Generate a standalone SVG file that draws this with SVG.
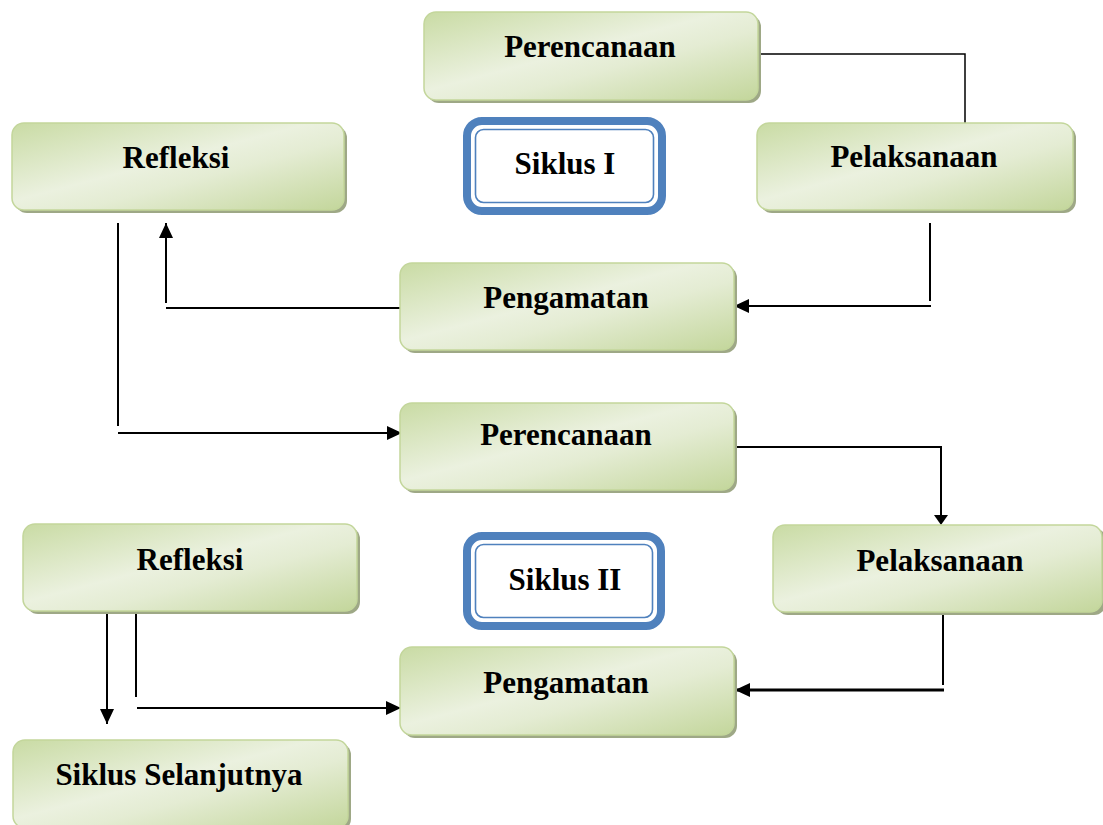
<svg xmlns="http://www.w3.org/2000/svg" width="1103" height="825" viewBox="0 0 1103 825">
<style>
.shadow{fill:#9ea886;}
.box{fill:url(#g);stroke:#c3d69b;stroke-width:1.5;}
.t{font-family:"Liberation Serif","Times New Roman",serif;font-weight:bold;font-size:31px;fill:#000;text-anchor:middle;}
.outer{fill:#fff;stroke:#4f81bd;stroke-width:8;}
.inner{fill:none;stroke:#4f81bd;stroke-width:1.6;}
.c{fill:none;stroke:#000;stroke-width:2;}
.c1{fill:none;stroke:#000;stroke-width:1.5;}
</style>
<defs>
<linearGradient id="g" x1="0" y1="0" x2="1" y2="1">
<stop offset="0" stop-color="#c9dba4"/>
<stop offset="0.45" stop-color="#ebf1df"/>
<stop offset="0.6" stop-color="#e4ecd3"/>
<stop offset="1" stop-color="#c3d69b"/>
</linearGradient>
<marker id="arr" markerUnits="userSpaceOnUse" markerWidth="15" markerHeight="14" refX="15" refY="7" orient="auto">
<path d="M0,0 L15,7 L0,14 z" fill="#000"/>
</marker>
</defs>
<rect width="1103" height="825" fill="#fff"/>

<g id="connectors">
<polyline class="c1" points="759,54 965,54 965,130"/>
<line class="c" x1="930" y1="223" x2="930" y2="301"/>
<line class="c" x1="931" y1="306" x2="734" y2="306" marker-end="url(#arr)"/>
<line class="c" x1="402" y1="308" x2="166" y2="308"/>
<line class="c" x1="166" y1="303" x2="166" y2="223" marker-end="url(#arr)"/>
<line class="c" x1="118" y1="223" x2="118" y2="426"/>
<line class="c" x1="118" y1="433" x2="402" y2="433" marker-end="url(#arr)"/>
<polyline class="c" points="735,447 941,447 941,518"/>
<path d="M934,515 L948,515 L941,525 z" fill="#000"/>
<line class="c" x1="943" y1="605" x2="943" y2="685"/>
<line class="c" x1="944" y1="690" x2="735" y2="690" marker-end="url(#arr)" style="stroke-width:3"/>
<line class="c" x1="107" y1="612" x2="107" y2="724" marker-end="url(#arr)"/>
<line class="c" x1="136" y1="612" x2="136" y2="697"/>
<line class="c" x1="137" y1="708" x2="401" y2="708" marker-end="url(#arr)"/>
</g>

<g id="perencanaan1">
<rect class="shadow" x="427" y="15" width="334" height="88" rx="12"/>
<rect class="box" x="424" y="12" width="334" height="88" rx="12"/>
<text class="t" x="590" y="57">Perencanaan</text>
</g>

<g id="refleksi1">
<rect class="shadow" x="15" y="126" width="332" height="87" rx="12"/>
<rect class="box" x="12" y="123" width="332" height="87" rx="12"/>
<text class="t" x="176" y="168">Refleksi</text>
</g>

<g id="siklus1">
<rect class="outer" x="467" y="121" width="195" height="90" rx="15"/>
<rect class="inner" x="475.5" y="129.5" width="178" height="73" rx="8"/>
<text class="t" x="565" y="174">Siklus I</text>
</g>

<g id="pelaksanaan1">
<rect class="shadow" x="760" y="126" width="316" height="87" rx="12"/>
<rect class="box" x="757" y="123" width="316" height="87" rx="12"/>
<text class="t" x="914" y="167">Pelaksanaan</text>
</g>

<g id="pengamatan1">
<rect class="shadow" x="403" y="266" width="334" height="87" rx="12"/>
<rect class="box" x="400" y="263" width="334" height="87" rx="12"/>
<text class="t" x="566" y="308">Pengamatan</text>
</g>

<g id="perencanaan2">
<rect class="shadow" x="403" y="406" width="334" height="87" rx="12"/>
<rect class="box" x="400" y="403" width="334" height="87" rx="12"/>
<text class="t" x="566" y="445">Perencanaan</text>
</g>

<g id="refleksi2">
<rect class="shadow" x="26" y="527" width="334" height="87" rx="12"/>
<rect class="box" x="23" y="524" width="334" height="87" rx="12"/>
<text class="t" x="190" y="570">Refleksi</text>
</g>

<g id="siklus2">
<rect class="outer" x="467" y="536" width="194" height="90" rx="15"/>
<rect class="inner" x="475.5" y="544.5" width="177" height="73" rx="8"/>
<text class="t" x="565" y="590">Siklus II</text>
</g>

<g id="pelaksanaan2">
<rect class="shadow" x="776" y="528" width="330" height="87" rx="12"/>
<rect class="box" x="773" y="525" width="329" height="87" rx="12"/>
<text class="t" x="940" y="571">Pelaksanaan</text>
</g>

<g id="pengamatan2">
<rect class="shadow" x="403" y="650" width="334" height="88" rx="12"/>
<rect class="box" x="400" y="647" width="334" height="88" rx="12"/>
<text class="t" x="566" y="693">Pengamatan</text>
</g>

<g id="siklus-selanjutnya">
<rect class="shadow" x="16" y="743" width="335" height="88" rx="12"/>
<rect class="box" x="13" y="740" width="335" height="88" rx="12"/>
<text class="t" x="179" y="785">Siklus Selanjutnya</text>
</g>
</svg>
